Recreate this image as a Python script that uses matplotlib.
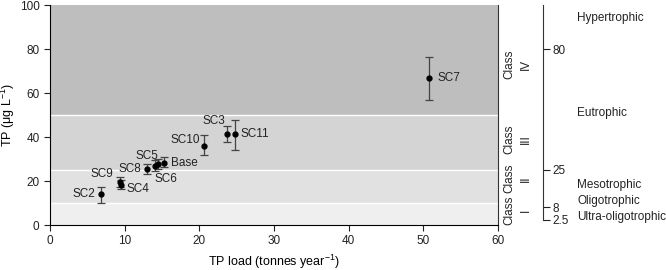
import numpy as np
import matplotlib
matplotlib.use('Agg')
import matplotlib.pyplot as plt

plt.rcParams['font.family'] = ['Liberation Sans', 'DejaVu Sans']
plt.rcParams['mathtext.fontset'] = 'custom'
plt.rcParams['mathtext.rm'] = 'Liberation Sans'
plt.rcParams['mathtext.it'] = 'Liberation Sans:italic'
plt.rcParams['font.size'] = 8.5

# scenario results
names = ['SC2', 'SC9', 'SC4', 'SC8', 'SC6', 'SC5', 'Base', 'SC10', 'SC3', 'SC11', 'SC7']
tp_load = [6.8, 9.4, 9.5, 13.0, 14.1, 14.5, 15.3, 20.6, 23.7, 24.8, 50.8]
tp_conc = [14.1, 19.7, 18.3, 25.3, 27.0, 27.7, 28.3, 36.0, 41.2, 41.2, 66.8]
tp_low = [10.0, 17.5, 16.2, 23.2, 24.5, 25.3, 26.2, 31.8, 37.6, 34.1, 57.0]
tp_high = [17.3, 21.7, 20.3, 27.8, 29.5, 30.2, 30.8, 40.9, 45.0, 47.7, 76.4]

# WFD classes (TP boundaries)
class_edges = [0, 10, 25, 50, 100]
class_names = ['Class\nI', 'Class\nII', 'Class\nIII', 'Class\nIV']
class_label_y = [6.6, 21, 39, 73]
band_colors = ['#efefef', '#e1e1e1', '#d4d4d4', '#bebebe']

# trophic state scale
trophic_ticks = [2.5, 8, 25, 80]
trophic_names = ['Ultra-oligotrophic', 'Oligotrophic', 'Mesotrophic', 'Eutrophic', 'Hypertrophic']
trophic_label_y = [3.6, 10.9, 18.2, 51, 94]

# label offsets in pixels (dx, dy, ha)
label_offsets = [(-6, 0, 'right'), (-7, 8, 'right'), (6, -4, 'left'), (-6, 0, 'right'),
                 (-1, -13, 'left'), (0, 8, 'right'), (7, 0, 'left'), (-4, 6, 'right'),
                 (-2, 13, 'right'), (5, 0, 'left'), (8, 0, 'left')]

fig = plt.figure(figsize=(6.66, 2.7), dpi=100)
ax = fig.add_axes([50/666, 1-225/270, 448/666, 220/270])

for i in range(4):
    ax.axhspan(class_edges[i], class_edges[i+1], color=band_colors[i], lw=0, zorder=0)
for e in class_edges[1:-1]:
    ax.axhline(e, color='white', lw=1, zorder=1)

x = np.array(tp_load)
y = np.array(tp_conc)
yerr = np.array([y - np.array(tp_low), np.array(tp_high) - y])
ax.errorbar(x, y, yerr=yerr, fmt='o', color='black', ms=3.5, ecolor='#444444',
            elinewidth=0.9, capsize=3, capthick=0.9, zorder=3)

for n, xi, yi, (dx, dy, ha) in zip(names, x, y, label_offsets):
    ax.annotate(n, (xi, yi), xytext=(dx, dy), textcoords='offset pixels',
                ha=ha, va='center', fontsize=8.5, color='#222222')

ax.set_xlim(0, 60)
ax.set_ylim(0, 100)
ax.set_xticks([0, 10, 20, 30, 40, 50, 60])
ax.set_yticks([0, 20, 40, 60, 80, 100])
ax.spines['top'].set_visible(False)
ax.spines['right'].set_color('#333333')
ax.tick_params(direction='out', length=4, width=0.8, colors='#222222')
ax.set_xlabel('TP load (tonnes year$^{-1}$)', fontsize=9)
ax.set_ylabel('TP (\u03bcg L$^{-1}$)', fontsize=9, labelpad=2)

for lab, yl in zip(class_names, class_label_y):
    ax.text(62.6, yl, lab, rotation=90, ha='center', va='center', fontsize=8.5,
            multialignment='center', linespacing=1.45, clip_on=False, color='#222222')

# trophic scale axis
ax2 = fig.add_axes([543/666, 1-225/270, 100/666, 220/270])
ax2.set_ylim(0, 100)
ax2.set_xlim(0, 1)
ax2.patch.set_visible(False)
for s in ['top', 'bottom', 'left']:
    ax2.spines[s].set_visible(False)
ax2.spines['right'].set_position(('axes', 0))
ax2.spines['right'].set_bounds(2.5, 100)
ax2.spines['right'].set_color('#333333')
ax2.yaxis.tick_right()
ax2.set_yticks(trophic_ticks)
ax2.set_yticklabels(['2.5', '8', '25', '80'])
ax2.tick_params(axis='y', direction='out', length=5, width=0.8, pad=2, colors='#222222')
ax2.set_xticks([])
for lab, yl in zip(trophic_names, trophic_label_y):
    ax2.text(0.34, yl, lab, ha='left', va='center', fontsize=8.5, color='#222222')

fig.savefig('out.png', dpi=100)
